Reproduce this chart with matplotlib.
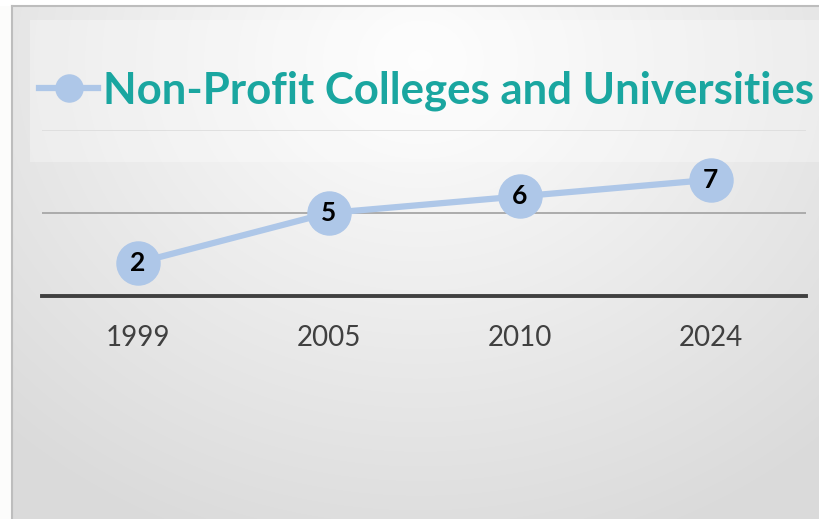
import numpy as np
import matplotlib.pyplot as plt
from matplotlib.patches import Rectangle
from matplotlib.lines import Line2D

# data
years = ['1999', '2005', '2010', '2024']
counts = [2, 5, 6, 7]
series_name = 'Non-Profit Colleges and Universities'

W, H = 820, 519
fig = plt.figure(figsize=(W / 100, H / 100), dpi=100)

# page strip + chart background (radial gradient)
bg = fig.add_axes([0, 0, 1, 1], zorder=0)
bg.set_xlim(0, W)
bg.set_ylim(H, 0)
bg.axis('off')
yy, xx = np.mgrid[0:H, 0:W]
r = np.sqrt(((xx - 420) / 650.0) ** 2 + ((yy - 60) / 560.0) ** 2)
val = np.clip(0.995 - 0.15 * r, 0.855, 1.0)
img = np.dstack([val, val, val])
img[:, :12] = [0.99, 0.99, 0.985]
img[:6, :] = [1, 1, 1]
bg.imshow(img, extent=[0, W, H, 0], aspect='auto', interpolation='bilinear')
bg.plot([12, 12], [6, H], color='#bdbdbd', lw=1.5)
bg.plot([12, W], [6, 6], color='#bdbdbd', lw=1.5)
# legend panel
bg.add_patch(Rectangle((30, 20), W - 30, 142, facecolor='white', alpha=0.3,
                       edgecolor='none'))

ax = fig.add_axes([42 / W, (H - 296) / H, (806 - 42) / W, (296 - 130) / H], zorder=2)
ax.patch.set_alpha(0)
x = np.arange(len(years))
ax.set_xlim(-0.5, len(years) - 0.5)
ax.set_ylim(0, 10)
ax.set_yticks([0, 5, 10])
ax.yaxis.grid(True, color='#a6a6a6', lw=1.3)
ax.set_axisbelow(True)
for s in ['top', 'right', 'left']:
    ax.spines[s].set_visible(False)
ax.spines['bottom'].set_color('#404040')
ax.spines['bottom'].set_linewidth(2.8)
ax.tick_params(axis='y', left=False, labelleft=False)
ax.tick_params(axis='x', length=0, pad=21)
ax.set_xticks(x)
ax.set_xticklabels(years, fontsize=20, color='#404040', family='Lato')
ax.get_ygridlines()[-1].set_color('#dedede')

ax.plot(x, counts, color='#aec7e8', lw=4.5, marker='o', ms=31,
        markerfacecolor='#aec7e8', markeredgecolor='#aec7e8', label=series_name,
        clip_on=False, zorder=3)
for xi, c in zip(x, counts):
    ax.text(xi, c, str(c), ha='center', va='center', fontsize=19,
            fontweight='bold', color='black', family='Lato', zorder=4)

h = Line2D([], [], color='#aec7e8', lw=4.5, marker='o', ms=19.5)
fig.legend([h], [series_name], loc='center left', bbox_to_anchor=(39 / W, 1 - 91 / H),
           frameon=False, handlelength=1.35, handletextpad=0.12, borderaxespad=0,
           borderpad=0,
           prop={'family': 'Lato', 'weight': 'bold', 'size': 31.5}, labelcolor='#1aa6a0')

fig.savefig('out.png', dpi=100)
